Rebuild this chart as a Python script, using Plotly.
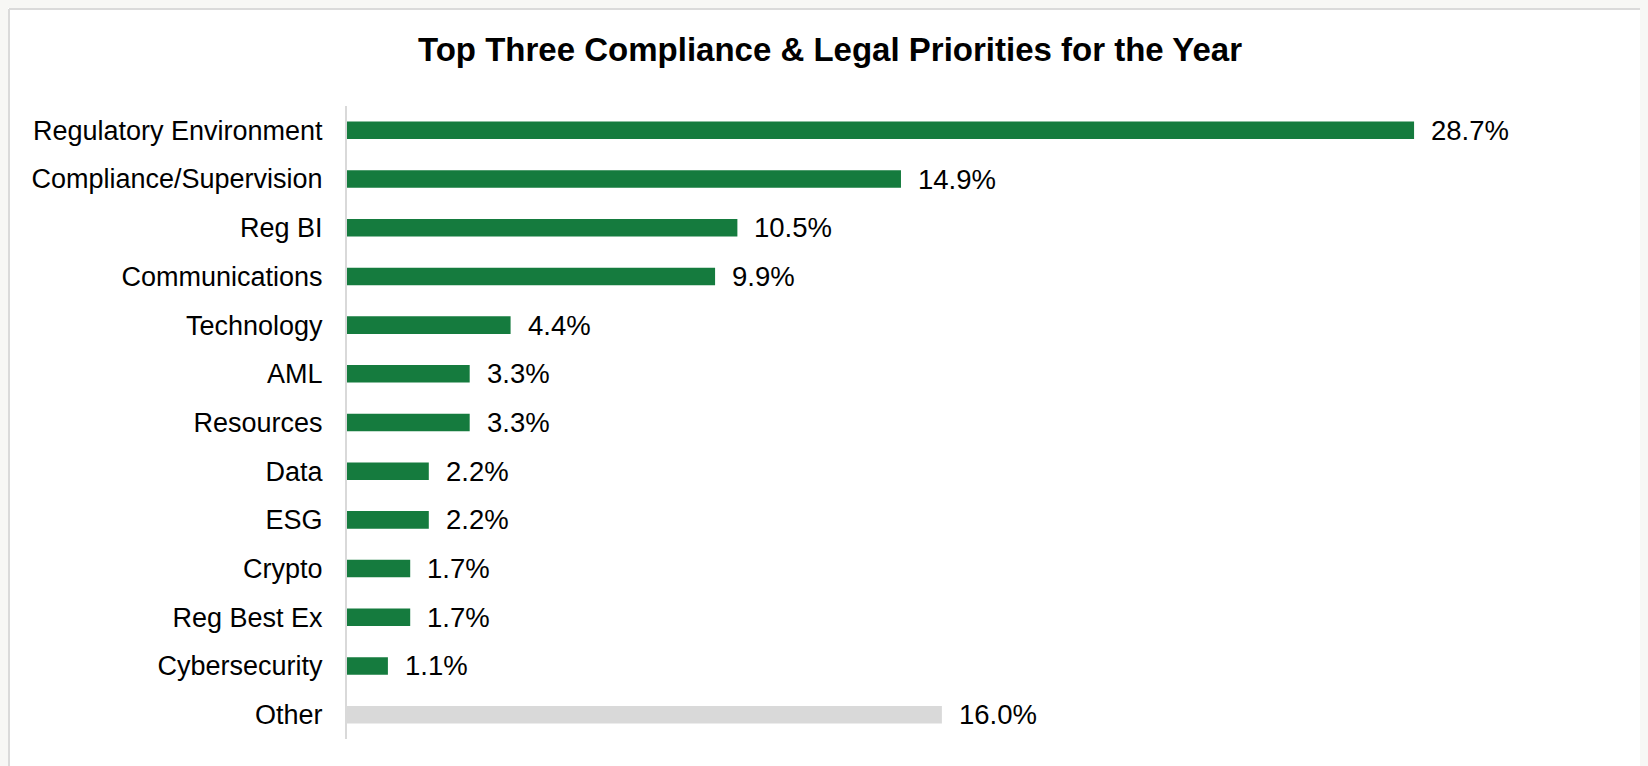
import plotly.graph_objects as go

categories = ["Regulatory Environment", "Compliance/Supervision", "Reg BI", "Communications",
              "Technology", "AML", "Resources", "Data", "ESG", "Crypto", "Reg Best Ex",
              "Cybersecurity", "Other"]
values = [28.7, 14.9, 10.5, 9.9, 4.4, 3.3, 3.3, 2.2, 2.2, 1.7, 1.7, 1.1, 16.0]
value_labels = ["28.7%", "14.9%", "10.5%", "9.9%", "4.4%", "3.3%", "3.3%", "2.2%", "2.2%",
                "1.7%", "1.7%", "1.1%", "16.0%"]
title_text = "Top Three Compliance & Legal Priorities for the Year"

GREEN = "#157B3E"
GREY = "#D9D9D9"
colors = [GREY if c == "Other" else GREEN for c in categories]

W, H = 1648, 766
L, R, T, B = 339, 48, 98, 35
pw = W - L - R
ph = H - T - B
px_per_unit = 37.18
xmax = pw / px_per_unit
FONT = "Liberation Sans, Arial, sans-serif"

fig = go.Figure()
fig.add_trace(go.Bar(
    x=values, y=categories, orientation="h",
    marker=dict(color=colors, line=dict(width=0)),
    width=0.36, hoverinfo="skip",
))

for v, c, t in zip(values, categories, value_labels):
    fig.add_annotation(x=v, y=c, text=t, showarrow=False, xanchor="left", yanchor="middle",
                       xshift=15, font=dict(family=FONT, size=27.5, color="#000000"))

# light border along the card's top and left edges
top_y = (ph + T - 1) / ph
left_x = (1 - L) / pw
fig.add_shape(type="line", xref="paper", yref="paper", x0=left_x, x1=(W + 20 - L) / pw,
              y0=top_y, y1=top_y, line=dict(color="#DADADA", width=2))
fig.add_shape(type="line", xref="paper", yref="paper", x0=left_x, x1=left_x,
              y0=-(B + 30) / ph, y1=top_y, line=dict(color="#DADADA", width=2))

fig.update_layout(
    width=W, height=H,
    margin=dict(l=L, r=R, t=T, b=B, pad=0),
    paper_bgcolor="#FFFFFF", plot_bgcolor="rgba(0,0,0,0)",
    showlegend=False,
    title=dict(text="<b>" + title_text + "</b>", x=822 / W, xanchor="center",
               y=1 - 41 / H, yanchor="middle",
               font=dict(family=FONT, size=33, color="#000000")),
    xaxis=dict(range=[0, xmax], showgrid=False, zeroline=False, showticklabels=False,
               showline=False, fixedrange=True),
    yaxis=dict(categoryorder="array", categoryarray=categories, range=[12.5, -0.5],
               showgrid=False, zeroline=False, showline=True, linecolor="#D9D9D9", linewidth=2,
               ticks="", ticklabelstandoff=17,
               tickfont=dict(family=FONT, size=27, color="#000000")),
)

fig.write_html("out.html",
               post_script="document.body.style.background='#F7F7F5';"
                           "document.body.style.overflow='hidden';")
